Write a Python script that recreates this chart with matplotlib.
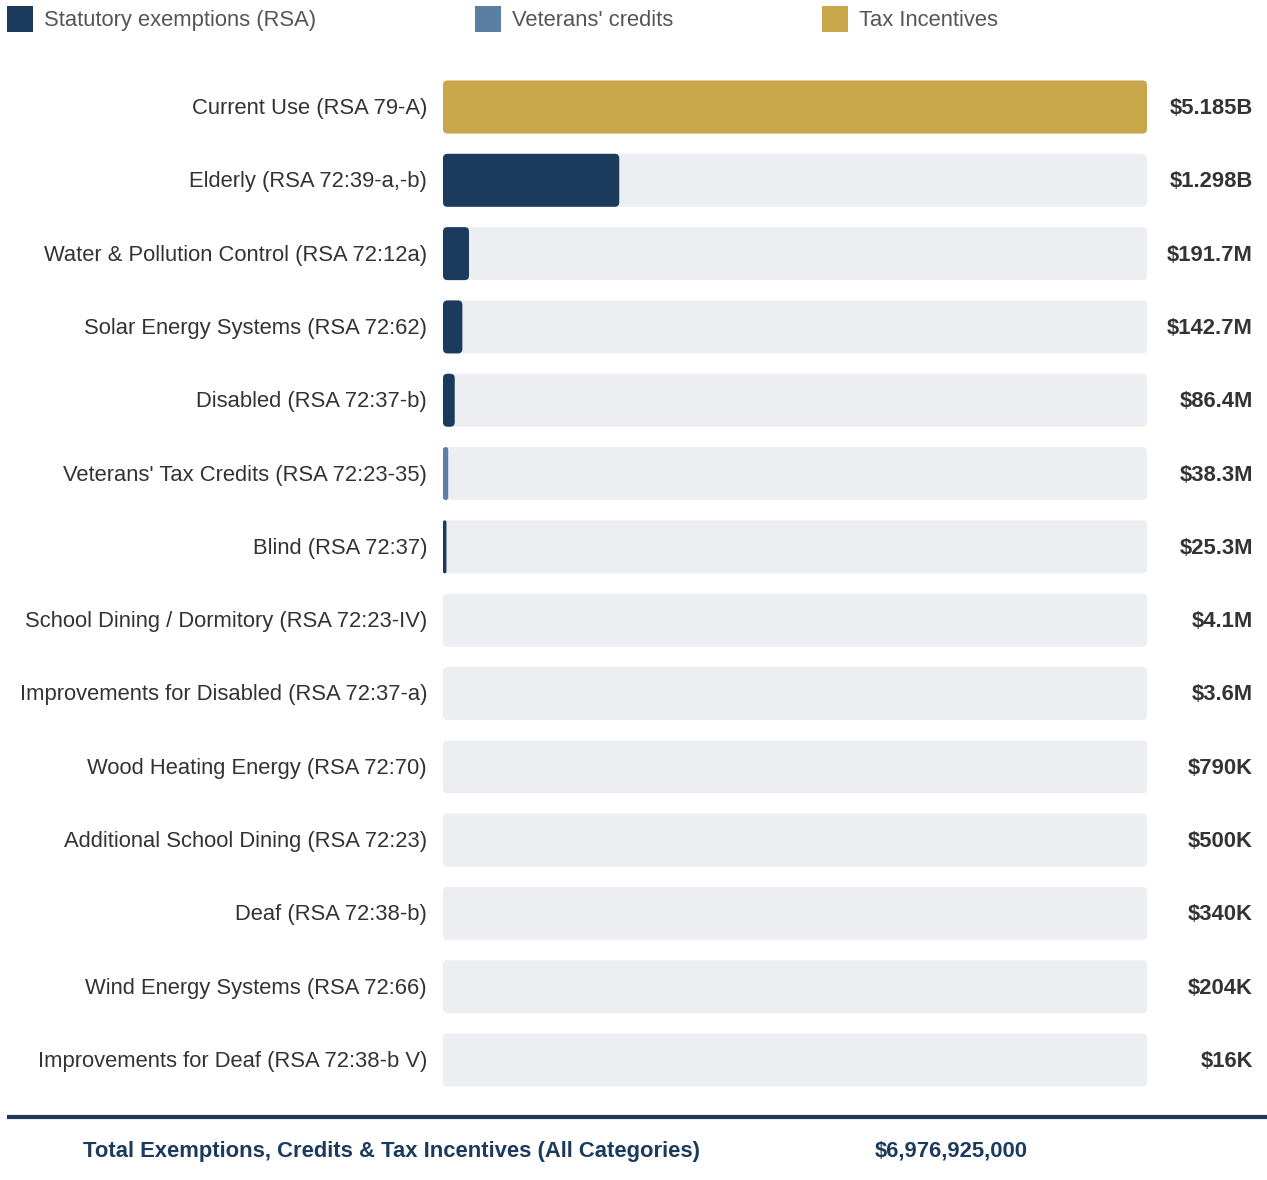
import matplotlib
matplotlib.use("Agg")
import matplotlib.pyplot as plt
from matplotlib.patches import FancyBboxPatch, Rectangle
from matplotlib.transforms import blended_transform_factory, offset_copy
from matplotlib.lines import Line2D

plt.rcParams['font.family'] = ['Liberation Sans', 'DejaVu Sans']

# ---- data ----
categories = [
    "Current Use (RSA 79-A)",
    "Elderly (RSA 72:39-a,-b)",
    "Water & Pollution Control (RSA 72:12a)",
    "Solar Energy Systems (RSA 72:62)",
    "Disabled (RSA 72:37-b)",
    "Veterans' Tax Credits (RSA 72:23-35)",
    "Blind (RSA 72:37)",
    "School Dining / Dormitory (RSA 72:23-IV)",
    "Improvements for Disabled (RSA 72:37-a)",
    "Wood Heating Energy (RSA 72:70)",
    "Additional School Dining (RSA 72:23)",
    "Deaf (RSA 72:38-b)",
    "Wind Energy Systems (RSA 72:66)",
    "Improvements for Deaf (RSA 72:38-b V)",
]
values_musd = [5185.0, 1298.0, 191.7, 142.7, 86.4, 38.3, 25.3, 4.1, 3.6,
               0.79, 0.5, 0.34, 0.204, 0.016]
value_labels = ["$5.185B", "$1.298B", "$191.7M", "$142.7M", "$86.4M", "$38.3M",
                "$25.3M", "$4.1M", "$3.6M", "$790K", "$500K", "$340K",
                "$204K", "$16K"]
groups = ["Tax Incentives", "Statutory exemptions (RSA)", "Statutory exemptions (RSA)",
          "Statutory exemptions (RSA)", "Statutory exemptions (RSA)", "Veterans' credits",
          "Statutory exemptions (RSA)", "Statutory exemptions (RSA)",
          "Statutory exemptions (RSA)", "Statutory exemptions (RSA)",
          "Statutory exemptions (RSA)", "Statutory exemptions (RSA)",
          "Statutory exemptions (RSA)", "Statutory exemptions (RSA)"]
legend_labels = ["Statutory exemptions (RSA)", "Veterans' credits", "Tax Incentives"]
group_colors = {"Statutory exemptions (RSA)": "#1b3a5c",
                "Veterans' credits": "#5b7fa3",
                "Tax Incentives": "#c8a64a"}
total_label = "Total Exemptions, Credits & Tax Incentives (All Categories)"
total_value = "$6,976,925,000"

# ---- layout ----
W, H = 1267, 1180
FS = 15.8
fig = plt.figure(figsize=(W / 100, H / 100), dpi=100)
fig.patch.set_facecolor("white")

x0_px, x1_px = 443, 1147
row_top, row_bot = 107, 1060
n = len(categories)
step = (row_bot - row_top) / (n - 1)
ax_top = row_top - step / 2
ax_bot = row_bot + step / 2
ax = fig.add_axes([x0_px / W, 1 - ax_bot / H, (x1_px - x0_px) / W, (ax_bot - ax_top) / H])
xmax = max(values_musd)
ax.set_xlim(0, xmax)
ax.set_ylim(n - 0.5, -0.5)
ax.axis("off")

bar_h = 53 / step
ypos = list(range(n))

# rounding in pixels -> data units
r_px = 4.5
x_per_px = xmax / (x1_px - x0_px)
y_per_px = 1 / step
r_x = r_px * x_per_px
aspect = y_per_px / x_per_px


def rounded(patch, color, zorder):
    x, y = patch.get_x(), patch.get_y()
    w, h = patch.get_width(), patch.get_height()
    patch.remove()
    if w < x_per_px:  # narrower than one pixel: not visible in the reference
        return
    rs = min(r_x, w / 2)
    fb = FancyBboxPatch((x, y), w, h,
                        boxstyle=f"round,pad=0,rounding_size={rs}",
                        mutation_aspect=aspect, facecolor=color,
                        edgecolor="none", zorder=zorder)
    ax.add_patch(fb)


tracks = ax.barh(ypos, [xmax] * n, height=bar_h, color="#edeef2")
for p in tracks.patches:
    rounded(p, "#edeef2", 1)

bar_colors = [group_colors[g] for g in groups]
bars = ax.barh(ypos, values_musd, height=bar_h, color=bar_colors)
for p, c in zip(bars.patches, bar_colors):
    rounded(p, c, 2)

trans = blended_transform_factory(fig.transFigure, ax.transData)
trans = offset_copy(trans, fig=fig, x=0, y=-1.5, units="dots")
for i, (cat, lab) in enumerate(zip(categories, value_labels)):
    fig.text(427 / W, i, cat, transform=trans, ha="right", va="center",
             fontsize=FS, color="#333333")
    fig.text(1253 / W, i, lab, transform=trans, ha="right", va="center",
             fontsize=FS, color="#333333", fontweight="bold")

# legend
legend_x = [7, 475, 822]
for lx, lab in zip(legend_x, legend_labels):
    fig.patches.append(Rectangle((lx / W, 1 - 32 / H), 26 / W, 26 / H,
                                 transform=fig.transFigure, facecolor=group_colors[lab],
                                 edgecolor="none"))
    fig.text((lx + 37) / W, 1 - 20.5 / H, lab, ha="left", va="center",
             fontsize=FS, color="#555555")

# bottom rule and total
fig.add_artist(Line2D([7 / W, 1], [1 - 1117 / H, 1 - 1117 / H], transform=fig.transFigure,
                      color="#1b3a5c", linewidth=3, solid_capstyle="butt"))
fig.text(83 / W, 1 - 1151 / H, total_label, ha="left", va="center",
         fontsize=FS, color="#1b3a5c", fontweight="bold")
fig.text(875 / W, 1 - 1151 / H, total_value, ha="left", va="center",
         fontsize=FS, color="#1b3a5c", fontweight="bold")

fig.savefig("out.png", dpi=100, facecolor="white")
